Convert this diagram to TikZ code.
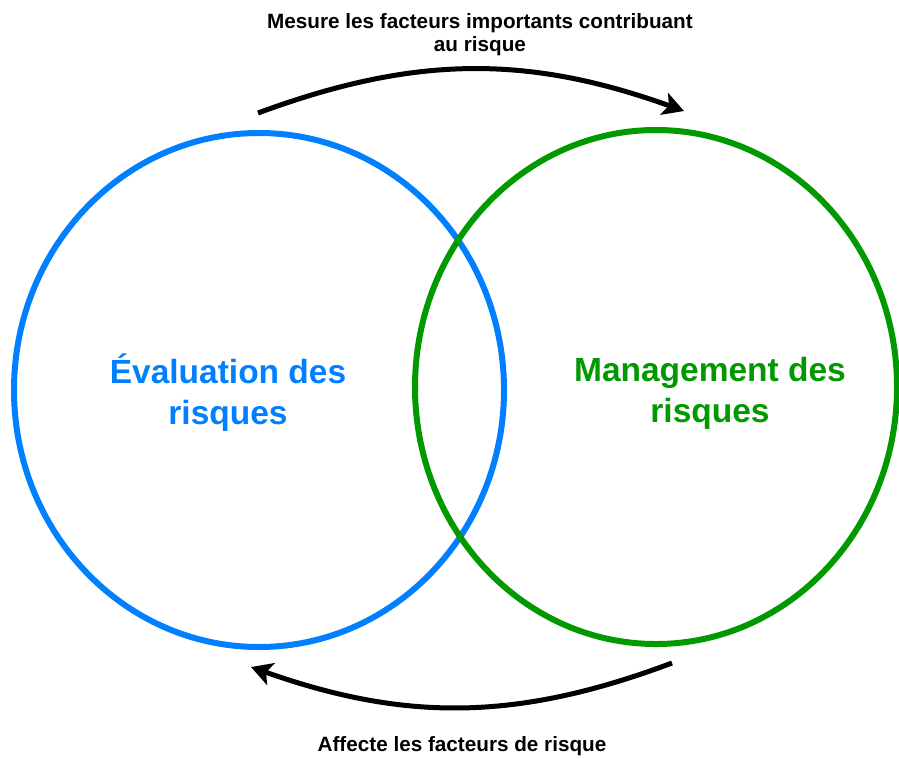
\documentclass[tikz,border=0pt]{standalone}
\usepackage{fontspec}
\setmainfont{Liberation Sans}
\usepackage{tikz}
\usetikzlibrary{arrows.meta}

\definecolor{evalBlue}{RGB}{0,128,255}
\definecolor{mgmtGreen}{RGB}{0,153,0}

\begin{document}
\begin{tikzpicture}[
	x=1pt, y=-1pt,
	ring/.style={line width=6pt},
	bigText/.style={align=center, font=\fontsize{33.5}{41}\selectfont\bfseries},
	smallText/.style={align=center, font=\fontsize{20.7}{23}\selectfont\bfseries},
	arrow/.style={line width=5pt, -{Stealth[length=21pt, width=23pt, inset=5pt]}}
]
\useasboundingbox (0, 0) rectangle (899, 758);

% Evaluation
\draw[ring, evalBlue] (259, 390) ellipse [x radius=245, y radius=257];
\node[bigText, evalBlue] (evalText) at (228, 393) {Évaluation des\\risques};

% Management
\draw[ring, mgmtGreen] (656, 387) ellipse [x radius=241, y radius=257];
\node[bigText, mgmtGreen] (mgmtText) at (710, 393) {Management des\\risques};

% Arrows
\coordinate (topStart) at (258, 113);
\coordinate (topEnd) at (684, 111);
\coordinate (botStart) at (672, 663);
\coordinate (botEnd) at (251, 667);

\draw[arrow] (topStart) to[bend left=20] (topEnd);
\draw[arrow] (botStart) to[bend left=20] (botEnd);

\node[smallText] (topText) at (480, 35) {Mesure les facteurs importants contribuant\\au risque};
\node[smallText] (botText) at (462, 746) {Affecte les facteurs de risque};
\end{tikzpicture}
\end{document}
